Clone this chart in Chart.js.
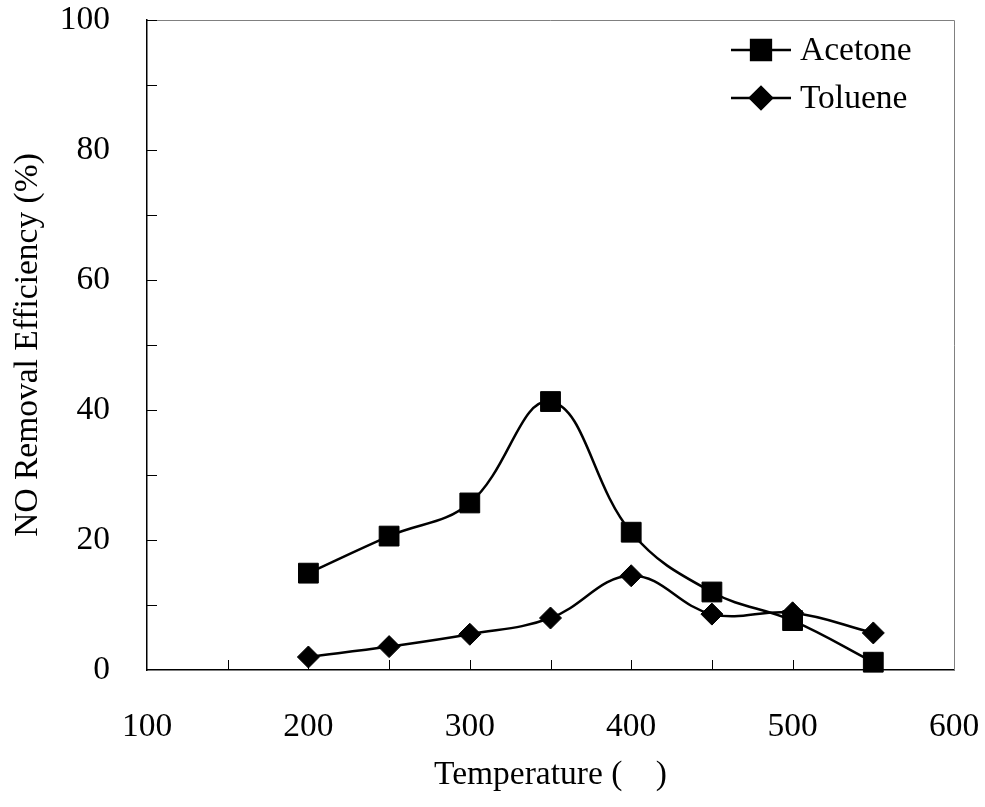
<!DOCTYPE html>
<html>
<head>
<meta charset="utf-8">
<script src="https://cdn.jsdelivr.net/npm/chart.js@4.4.1/dist/chart.umd.min.js"></script>
<style>
  html, body { margin: 0; padding: 0; background: #fff; }
  #wrap { width: 985px; height: 807px; }
</style>
</head>
<body>
<div id="wrap"><canvas id="chart"></canvas></div>
<script>
// datos
const temperatures = [200, 250, 300, 350, 400, 450, 500, 550];
const acetone = [14.9, 20.6, 25.7, 41.3, 21.2, 12.0, 7.6, 1.2];
const toluene = [2.0, 3.6, 5.5, 8.0, 14.5, 8.6, 8.8, 5.7];
const seriesNames = ['Acetone', 'Toluene'];
const xTitle = 'Temperature (\u2009\u2009\u2009\u2009\u2009)';
const yTitle = 'NO Removal Efficiency (%)';

const FONT = "'Liberation Serif', 'Times New Roman', serif";
const FSIZE = 33.5;

const toPoints = vals => vals.map((v, i) => ({ x: temperatures[i], y: v }));

// marcas hacia adentro + borde superior/derecho + leyenda
const innerTicks = {
    id: 'innerTicks',
    afterDraw(chart) {
        const { ctx, chartArea: a, scales } = chart;
        ctx.save();
        // borde gris arriba y derecha
        ctx.strokeStyle = '#808080';
        ctx.lineWidth = 1;
        ctx.beginPath();
        ctx.moveTo(a.left, a.top + 0.5);
        ctx.lineTo(a.right + 0.5, a.top + 0.5);
        ctx.lineTo(a.right + 0.5, a.bottom);
        ctx.stroke();

        ctx.strokeStyle = '#000';
        ctx.lineWidth = 1;
        const x = scales.x, y = scales.y;
        for (let v = x.min + 50; v < x.max; v += 50) {
            const px = Math.round(x.getPixelForValue(v)) + 0.5;
            ctx.beginPath();
            ctx.moveTo(px, a.bottom);
            ctx.lineTo(px, a.bottom - 10);
            ctx.stroke();
        }
        for (let v = y.min + 10; v <= y.max; v += 10) {
            const py = Math.round(y.getPixelForValue(v)) + 0.5;
            ctx.beginPath();
            ctx.moveTo(a.left, py);
            ctx.lineTo(a.left + 10, py);
            ctx.stroke();
        }

        // leyenda
        const styles = ['rect', 'rectRot'];
        const radii = [14, 11];
        seriesNames.forEach((name, i) => {
            const ly = 50 + i * 48;
            ctx.strokeStyle = '#000';
            ctx.lineWidth = 2.5;
            ctx.beginPath();
            ctx.moveTo(731, ly);
            ctx.lineTo(791, ly);
            ctx.stroke();
            Chart.helpers.drawPoint(ctx, { pointStyle: styles[i], radius: radii[i], borderWidth: 1 }, 761, ly);
            ctx.fillStyle = '#000';
            ctx.font = FSIZE + 'px ' + FONT;
            ctx.textBaseline = 'middle';
            ctx.textAlign = 'left';
            ctx.fillText(name, 800, ly + 1);
        });
        ctx.restore();
    }
};

const ctx = document.getElementById('chart').getContext('2d');
new Chart(ctx, {
    type: 'line',
    data: {
        datasets: [
            {
                label: seriesNames[0],
                data: toPoints(acetone),
                borderColor: '#000',
                backgroundColor: '#000',
                borderWidth: 2.5,
                pointStyle: 'rect',
                pointRadius: 14,
                pointBorderWidth: 1,
                tension: 0.4,
                clip: false
            },
            {
                label: seriesNames[1],
                data: toPoints(toluene),
                borderColor: '#000',
                backgroundColor: '#000',
                borderWidth: 2.5,
                pointStyle: 'rectRot',
                pointRadius: 11,
                pointBorderWidth: 1,
                tension: 0.4,
                clip: false
            }
        ]
    },
    options: {
        responsive: true,
        maintainAspectRatio: false,
        animation: false,
        layout: { padding: { top: 20, right: 31, left: 0, bottom: 0 } },
        plugins: {
            legend: { display: false },
            tooltip: { enabled: false }
        },
        scales: {
            x: {
                type: 'linear',
                min: 100,
                max: 600,
                afterFit: s => { s.height = 137; s.paddingLeft = 0; s.paddingRight = 0; },
                ticks: {
                    stepSize: 100,
                    color: '#000',
                    padding: 37,
                    font: { family: FONT, size: FSIZE }
                },
                grid: { display: true, drawOnChartArea: false, drawTicks: false },
                border: { color: '#000', width: 1.5 },
                title: {
                    display: true,
                    text: xTitle,
                    color: '#000',
                    font: { family: FONT, size: FSIZE },
                    padding: { top: 0, bottom: 12 }
                }
            },
            y: {
                min: 0,
                max: 100,
                afterFit: s => { s.width = 147; s.paddingTop = 0; s.paddingBottom = 0; },
                ticks: {
                    stepSize: 20,
                    color: '#000',
                    padding: 37,
                    font: { family: FONT, size: FSIZE }
                },
                grid: { display: true, drawOnChartArea: false, drawTicks: false },
                border: { color: '#000', width: 1.5 },
                title: {
                    display: true,
                    text: yTitle,
                    color: '#000',
                    font: { family: FONT, size: FSIZE },
                    padding: { top: 8, bottom: 0 }
                }
            }
        }
    },
    plugins: [innerTicks]
});
</script>
</body>
</html>
